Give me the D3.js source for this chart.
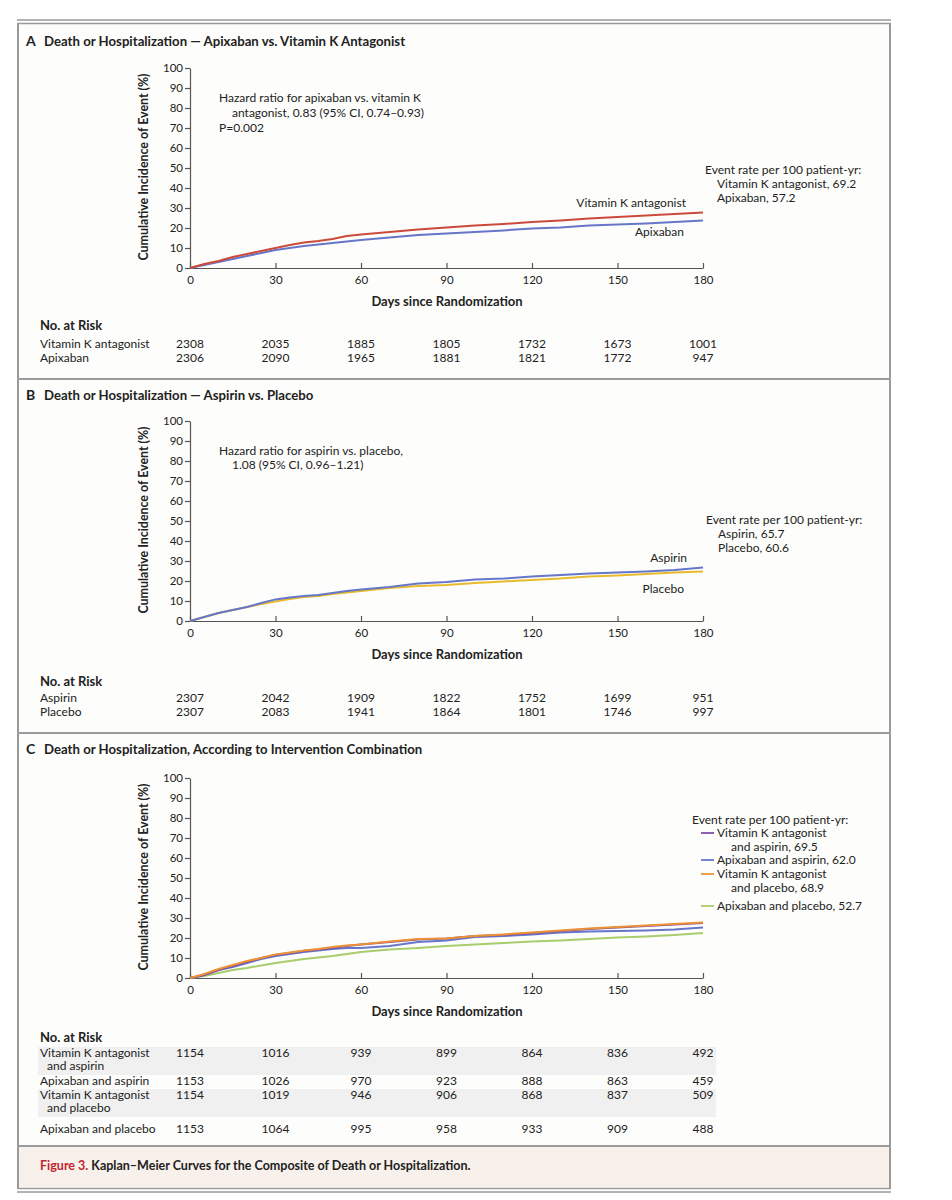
<!DOCTYPE html>
<html>
<head>
<meta charset="utf-8">
<title>Kaplan-Meier curves</title>
<script src="https://d3js.org/d3.v7.min.js"></script>
<style>
  body { margin: 0; background: #fff; }
  text { font-family: Lato, "Open Sans", sans-serif; fill: #222; }
</style>
</head>
<body>
<script>
const days = [0, 5, 10, 15, 20, 25, 30, 35, 40, 45, 50, 55, 60, 70, 80, 90, 100, 110, 120, 130, 140, 150, 160, 170, 180];
const xTicks = [0, 30, 60, 90, 120, 150, 180];
const yTicks = [0, 10, 20, 30, 40, 50, 60, 70, 80, 90, 100];

// panel A
const vkaA  = [0, 2, 3.5, 5.5, 7, 8.5, 10, 11.5, 12.8, 13.5, 14.5, 16, 16.8, 18, 19.3, 20.2, 21.2, 22, 23, 23.8, 24.8, 25.5, 26.3, 27, 27.7];
const apixA = [0, 1.5, 3, 4.5, 6, 7.5, 9, 10, 11, 11.8, 12.5, 13.3, 14, 15.2, 16.5, 17.3, 18, 18.8, 19.8, 20.3, 21.2, 21.8, 22.3, 23, 23.8];
// panel B
const aspB = [0, 2, 4, 5.5, 7, 9, 10.8, 11.8, 12.5, 13, 14, 15, 15.8, 17, 18.8, 19.5, 20.7, 21.2, 22.2, 23, 23.7, 24.2, 24.8, 25.5, 26.7];
const plaB = [0, 2, 4, 5.5, 7, 8.5, 9.7, 11, 12, 12.5, 13.5, 14.3, 15, 16.5, 17.5, 18, 19, 19.8, 20.5, 21.3, 22.2, 22.8, 23.5, 24.2, 24.8];
// panel C
const vkaAspC = [0, 1.5, 4, 6, 8, 10, 11.5, 12.5, 13.5, 14.3, 15, 16, 16.8, 18, 19.2, 19.8, 21, 21.5, 22.5, 23.5, 24.5, 25.3, 26, 26.8, 27.5];
const apiAspC = [0, 1.5, 4, 5.5, 7.5, 9.5, 11, 12, 13, 13.8, 14.5, 15, 15, 16, 18, 18.8, 20.5, 21, 21.8, 22.8, 23.2, 23.5, 23.8, 24.2, 25.2];
const vkaPlaC = [0, 2, 4.5, 6.5, 8.5, 10, 11.8, 12.8, 13.8, 14.5, 15.5, 16.2, 16.8, 18.3, 19.5, 19.7, 21, 21.8, 22.7, 23.8, 24.8, 25.5, 26.2, 27, 27.8];
const apiPlaC = [0, 1, 2.5, 4, 5, 6.3, 7.5, 8.5, 9.5, 10.3, 11, 12, 13, 14.2, 15, 16, 16.8, 17.5, 18.3, 18.8, 19.5, 20.2, 20.8, 21.5, 22.5];

// numbers at risk
const riskA = [[2308, 2035, 1885, 1805, 1732, 1673, 1001], [2306, 2090, 1965, 1881, 1821, 1772, 947]];
const riskB = [[2307, 2042, 1909, 1822, 1752, 1699, 951], [2307, 2083, 1941, 1864, 1801, 1746, 997]];
const riskC = [[1154, 1016, 939, 899, 864, 836, 492], [1153, 1026, 970, 923, 888, 863, 459],
               [1154, 1019, 946, 906, 868, 837, 509], [1153, 1064, 995, 958, 933, 909, 488]];

const red = "#cc4a3c", blue = "#6676c8", yellow = "#e9bb2c", purple = "#7d4fa6", orange = "#ec9234", green = "#a9cd6c";

const W = 952, H = 1200;
const svg = d3.select("body").append("svg").attr("width", W).attr("height", H);

// frame
svg.append("rect").attr("x", 18).attr("y", 23).attr("width", 872).attr("height", 1166).attr("fill", "#fdfdfb");
svg.append("rect").attr("x", 18).attr("y", 1147).attr("width", 872).attr("height", 40).attr("fill", "#f7f0eb");
const frame = svg.append("g").attr("stroke", "#9a9a9a").attr("fill", "none");
frame.append("line").attr("x1", 17).attr("x2", 891).attr("y1", 20).attr("y2", 20).attr("stroke-width", 1.5);
frame.append("line").attr("x1", 17).attr("x2", 891).attr("y1", 23.5).attr("y2", 23.5).attr("stroke-width", 1.5);
frame.append("line").attr("x1", 18).attr("x2", 18).attr("y1", 23).attr("y2", 1188).attr("stroke-width", 2);
frame.append("line").attr("x1", 890).attr("x2", 890).attr("y1", 23).attr("y2", 1188).attr("stroke-width", 2);
[379, 733, 1146].forEach(y => frame.append("line").attr("x1", 18).attr("x2", 890).attr("y1", y).attr("y2", y).attr("stroke-width", 2));
frame.append("line").attr("x1", 17).attr("x2", 891).attr("y1", 1188.5).attr("y2", 1188.5).attr("stroke-width", 1.5);
frame.append("line").attr("x1", 17).attr("x2", 891).attr("y1", 1192).attr("y2", 1192).attr("stroke-width", 1.5);

const cap = svg.append("text").attr("x", 40).attr("y", 1170).style("font-size", "12.5px").style("font-weight", "bold");
cap.append("tspan").style("fill", "#c4262e").text("Figure 3.");
cap.append("tspan").text(" Kaplan\u2013Meier Curves for the Composite of Death or Hospitalization.");

const xScale = d3.scaleLinear().domain([0, 180]).range([190, 703]);

function panel(p) {
  const g = svg.append("g");
  const yScale = d3.scaleLinear().domain([0, 100]).range([p.y0, p.y0 - 200]);

  g.append("text").attr("x", 26).attr("y", p.titleY).style("font-size", "14px").style("font-weight", "bold").text(p.letter);
  g.append("text").attr("x", 44).attr("y", p.titleY).style("font-size", "13.2px").style("font-weight", "bold").text(p.title);

  const yAxis = g.append("g").attr("transform", `translate(${xScale(0)},0)`)
    .call(d3.axisLeft(yScale).tickValues(yTicks).tickSize(5).tickSizeOuter(0).tickPadding(2));
  const xAxis = g.append("g").attr("transform", `translate(0,${p.y0})`)
    .call(d3.axisBottom(xScale).tickValues(xTicks).tickSize(-5).tickSizeOuter(0).tickPadding(8));
  [yAxis, xAxis].forEach(a => {
    a.select(".domain").attr("stroke", "#555").attr("stroke-width", 1.2);
    a.selectAll(".tick line").attr("stroke", "#555").attr("stroke-width", 1.2);
    a.selectAll(".tick text").style("font-family", "Lato, sans-serif").style("font-size", "11.5px").attr("fill", "#333");
  });

  g.append("text").attr("transform", `translate(148,${p.y0 - 101}) rotate(-90)`).attr("text-anchor", "middle")
    .style("font-size", "12.4px").style("font-weight", "bold").text("Cumulative Incidence of Event (%)");
  g.append("text").attr("x", 447).attr("y", p.y0 + 38).attr("text-anchor", "middle")
    .style("font-size", "13px").style("font-weight", "bold").text("Days since Randomization");

  const line = d3.line().x((d, i) => xScale(days[i])).y(d => yScale(d));
  p.series.forEach(s => {
    g.append("path").datum(s.values).attr("fill", "none").attr("stroke", s.color).attr("stroke-width", 2).attr("d", line);
  });

  (p.notes || []).forEach(n => {
    g.append("text").attr("x", n[0]).attr("y", n[1]).attr("text-anchor", n[3] || "start").style("font-size", "12px").text(n[2]);
  });

  // number at risk
  g.append("text").attr("x", 40).attr("y", p.riskY).style("font-size", "13px").style("font-weight", "bold").text("No. at Risk");
  p.rows.forEach((r, i) => {
    if (r.band) g.append("rect").attr("x", 38).attr("y", r.y - 10).attr("width", 678).attr("height", r.band).attr("fill", "#f0f0f0");
    r.label.forEach((t, k) => g.append("text").attr("x", k ? 47 : 40).attr("y", r.y + k * 13).style("font-size", "12px").text(t));
    g.selectAll(null).data(p.risk[i]).join("text")
      .attr("x", (d, j) => xScale(xTicks[j])).attr("y", r.y).attr("text-anchor", "middle")
      .style("font-size", "12px").text(d => d);
  });
}

panel({
  letter: "A", title: "Death or Hospitalization \u2014 Apixaban vs. Vitamin K Antagonist", titleY: 46, y0: 268,
  series: [{ values: apixA, color: blue }, { values: vkaA, color: red }],
  notes: [[219, 102, "Hazard ratio for apixaban vs. vitamin K"], [232, 117, "antagonist, 0.83 (95% CI, 0.74\u20130.93)"], [219, 132, "P=0.002"],
          [705, 174, "Event rate per 100 patient-yr:"], [717, 188, "Vitamin K antagonist, 69.2"], [717, 202, "Apixaban, 57.2"],
          [686, 207, "Vitamin K antagonist", "end"], [684, 236, "Apixaban", "end"]],
  riskY: 330, risk: riskA,
  rows: [{ y: 348, label: ["Vitamin K antagonist"] }, { y: 362, label: ["Apixaban"] }]
});

panel({
  letter: "B", title: "Death or Hospitalization \u2014 Aspirin vs. Placebo", titleY: 400, y0: 621,
  series: [{ values: plaB, color: yellow }, { values: aspB, color: blue }],
  notes: [[219, 455, "Hazard ratio for aspirin vs. placebo,"], [232, 469, "1.08 (95% CI, 0.96\u20131.21)"],
          [706, 524, "Event rate per 100 patient-yr:"], [718, 538, "Aspirin, 65.7"], [718, 552, "Placebo, 60.6"],
          [687, 562, "Aspirin", "end"], [684, 593, "Placebo", "end"]],
  riskY: 686, risk: riskB,
  rows: [{ y: 702, label: ["Aspirin"] }, { y: 716, label: ["Placebo"] }]
});

panel({
  letter: "C", title: "Death or Hospitalization, According to Intervention Combination", titleY: 754, y0: 978,
  series: [{ values: apiPlaC, color: green }, { values: apiAspC, color: blue }, { values: vkaAspC, color: purple }, { values: vkaPlaC, color: orange }],
  notes: [[692, 824, "Event rate per 100 patient-yr:"]],
  riskY: 1042, risk: riskC,
  rows: [{ y: 1057, label: ["Vitamin K antagonist", "and aspirin"], band: 28 },
         { y: 1085, label: ["Apixaban and aspirin"] },
         { y: 1099, label: ["Vitamin K antagonist", "and placebo"], band: 28 },
         { y: 1133, label: ["Apixaban and placebo"] }]
});

// legend for panel C
const legendC = [
  { color: purple, lines: ["Vitamin K antagonist", "and aspirin, 69.5"], y: 837 },
  { color: blue, lines: ["Apixaban and aspirin, 62.0"], y: 864 },
  { color: orange, lines: ["Vitamin K antagonist", "and placebo, 68.9"], y: 878 },
  { color: green, lines: ["Apixaban and placebo, 52.7"], y: 910 }
];
legendC.forEach(l => {
  svg.append("line").attr("x1", 701).attr("x2", 714).attr("y1", l.y - 4).attr("y2", l.y - 4).attr("stroke", l.color).attr("stroke-width", 1.8);
  l.lines.forEach((t, k) => svg.append("text").attr("x", k ? 731 : 717).attr("y", l.y + k * 13.5).style("font-size", "12px").text(t));
});
</script>
</body>
</html>
